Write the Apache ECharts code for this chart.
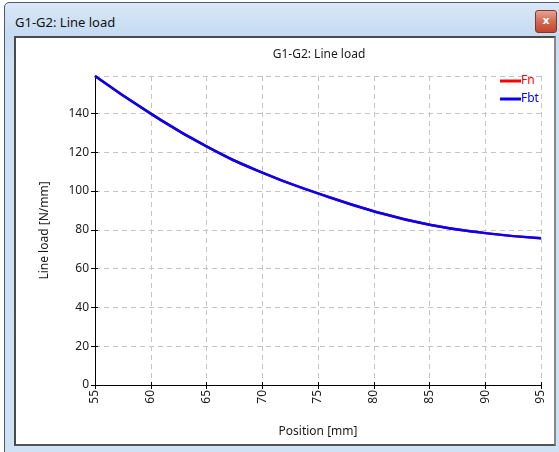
<!DOCTYPE html>
<html>
<head>
<meta charset="utf-8">
<script src="https://cdn.jsdelivr.net/npm/echarts@6/dist/echarts.min.js"></script>
<style>
  html, body { margin: 0; padding: 0; background: #fff; overflow: hidden; }
  #win {
    position: absolute; left: 4px; top: 2px; width: 560px; height: 460px;
    border: 1px solid #4d5b6b; border-radius: 5px 0 0 0;
    background: linear-gradient(to bottom, #d9e7f6 0px, #c6dcf2 30px, #cde0f4 60px, #cfe1f4 100%);
  }
  #caption {
    position: absolute; left: 15px; top: 13px;
    font: 13px "Noto Sans", sans-serif; color: #111;
  }
  #close {
    position: absolute; left: 535px; top: 10px; width: 20px; height: 21px;
    border: 1px solid #7b3a2c; border-radius: 3px;
    background: linear-gradient(to bottom, #e7a392 0%, #d26a52 50%, #c2462d 100%);
    color: #fff; font: bold 11px "DejaVu Sans", sans-serif; text-align: center; line-height: 20px;
  }
  #panel {
    position: absolute; left: 14px; top: 36px; width: 538px; height: 406px;
    border: 2px solid #4a4a4a; border-right-color: #888; border-bottom-color: #555;
    background: #fff;
  }
  #chart { width: 538px; height: 406px; }
</style>
</head>
<body>
<div id="win"></div>
<div id="caption">G1-G2: Line load</div>
<div id="close">x</div>
<div id="panel"><div id="chart"></div></div>
<script>
// positions along the beam [mm]
var positions = [55, 60, 65, 70, 75, 80, 85, 90, 95];
// line loads [N/mm]
var fbt = [159.3, 139.9, 123.0, 109.5, 98.8, 89.6, 82.6, 78.3, 75.6];
var fn = fbt.slice(); // Fn lies under Fbt
var seriesNames = ['Fn', 'Fbt'];
var seriesColors = ['#ff0000', '#0000ff'];

var font = '"Noto Sans", sans-serif';
var textColor = '#1a1a1a';
var chart = echarts.init(document.getElementById('chart'));

function pairs(xs, ys) {
  return xs.map(function (x, i) { return [x, ys[i]]; });
}

var gridLine = { show: true, lineStyle: { color: '#c4c4c4', type: [5, 4] } };

var option = {
  animation: false,
  title: {
    text: 'G1-G2: Line load',
    left: 298, top: 6, textAlign: 'center',
    textStyle: { fontFamily: font, fontSize: 12, fontWeight: 'normal', color: textColor }
  },
  legend: {
    orient: 'vertical',
    left: 479, top: 31,
    itemWidth: 21, itemHeight: 3, itemGap: 4,
    icon: 'rect',
    data: [
      { name: 'Fn', textStyle: { color: seriesColors[0] } },
      { name: 'Fbt', textStyle: { color: seriesColors[1] } }
    ],
    textStyle: { fontFamily: font, fontSize: 12, padding: [0, 0, 0, -5], lineHeight: 14 }
  },
  grid: { left: 79, top: 38, width: 446, height: 309 },
  xAxis: [
    {
      type: 'value', min: 55, max: 95, interval: 5,
      name: 'Position [mm]', nameLocation: 'middle', nameGap: 41,
      nameTextStyle: { fontFamily: font, fontSize: 12, color: textColor },
      axisLine: { lineStyle: { color: '#000', width: 1 } },
      axisTick: { length: 4, lineStyle: { color: '#000' } },
      axisLabel: { rotate: 90, margin: 5, fontFamily: font, fontSize: 12, color: textColor },
      splitLine: gridLine
    },
    {
      // inner half of the ticks
      type: 'value', min: 55, max: 95, interval: 5, position: 'bottom',
      axisLine: { show: false },
      axisTick: { inside: true, length: 3, lineStyle: { color: '#000' } },
      axisLabel: { show: false }, splitLine: { show: false }
    }
  ],
  yAxis: [
    {
      type: 'value', min: 0, max: 159.3, interval: 20,
      name: 'Line load [N/mm]', nameLocation: 'middle', nameGap: 44,
      nameTextStyle: { fontFamily: font, fontSize: 12, color: textColor },
      axisLine: { show: true, lineStyle: { color: '#000', width: 1 } },
      axisTick: { show: true, length: 4, lineStyle: { color: '#000' } },
      axisLabel: { margin: 6, fontFamily: font, fontSize: 12, color: textColor, showMaxLabel: false },
      splitLine: gridLine
    },
    {
      type: 'value', min: 0, max: 159.3, interval: 20, position: 'left',
      axisLine: { show: false },
      axisTick: { show: true, inside: true, length: 3, lineStyle: { color: '#000' } },
      axisLabel: { show: false }, splitLine: { show: false }
    }
  ],
  series: [
    {
      name: seriesNames[0], type: 'line', data: pairs(positions, fn), smooth: true,
      showSymbol: false, lineStyle: { color: seriesColors[0], width: 2.5 }, itemStyle: { color: seriesColors[0] }
    },
    {
      name: seriesNames[1], type: 'line', data: pairs(positions, fbt), smooth: true,
      showSymbol: false, lineStyle: { color: seriesColors[1], width: 2.5 }, itemStyle: { color: seriesColors[1] }
    }
  ]
};

chart.setOption(option);
</script>
</body>
</html>
